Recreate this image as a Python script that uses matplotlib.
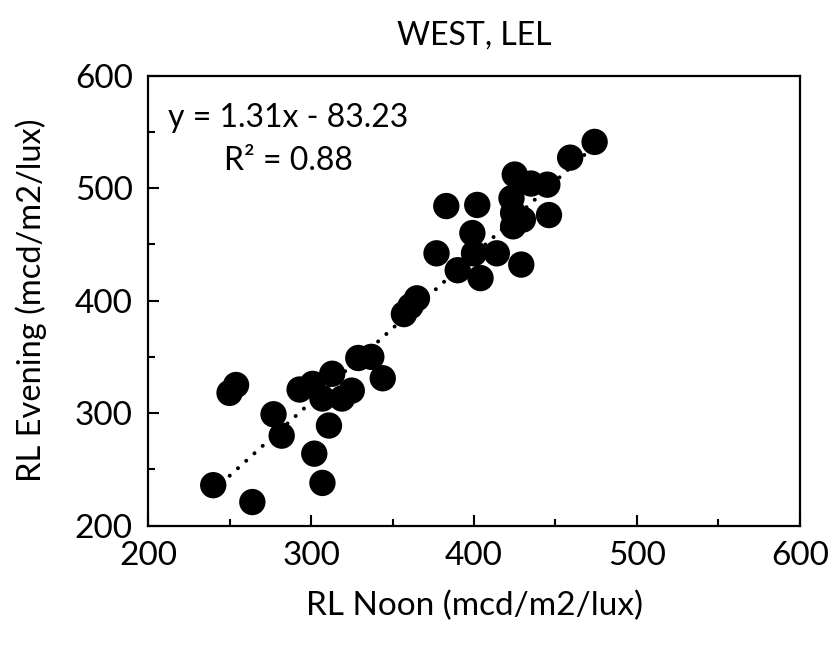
import numpy as np
import matplotlib
matplotlib.use("Agg")
import matplotlib.pyplot as plt
from matplotlib.ticker import MultipleLocator

plt.rcParams['font.family'] = ['Lato', 'DejaVu Sans']

# Retroreflectivity readings (mcd/m2/lux)
rl_noon = [240, 264, 250, 254, 277, 282, 302, 307, 311, 293, 301, 313, 307, 319,
           325, 329, 337, 344,
           357, 361, 365, 377, 390, 383, 402, 399, 400, 414, 404, 429,
           474, 459, 425, 435, 445, 423, 446, 424, 430, 424]
rl_evening = [236, 221, 318, 325, 299, 280, 264, 238, 289, 321, 326, 335, 313, 313,
              320, 349, 350, 331,
              388, 395, 402, 442, 427, 484, 485, 460, 442, 442, 420, 432,
              541, 527, 512, 504, 503, 491, 476, 478, 472, 466]

# Linear trendline
slope, intercept, r2 = 1.31, -83.23, 0.88

title = "WEST, LEL"
xlabel = "RL Noon (mcd/m2/lux)"
ylabel = "RL Evening (mcd/m2/lux)"
x_ticks = [200, 300, 400, 500, 600]
y_ticks = [200, 300, 400, 500, 600]

fig = plt.figure(figsize=(8.34, 6.47), dpi=100)
ax = fig.add_axes([0.1775, 0.1875, 0.7817, 0.6958])

ax.scatter(rl_noon, rl_evening, s=360, color='black', edgecolors='none', zorder=2)

xs = np.array([min(rl_noon), max(rl_noon)])
ax.plot(xs, slope * xs + intercept, color='black', lw=2.9,
        linestyle=(0, (0.01, 2.75)), dash_capstyle='round', zorder=3)

ax.set_xlim(x_ticks[0], x_ticks[-1])
ax.set_ylim(y_ticks[0], y_ticks[-1])
ax.set_xticks(x_ticks)
ax.set_yticks(y_ticks)
ax.xaxis.set_minor_locator(MultipleLocator(50))
ax.yaxis.set_minor_locator(MultipleLocator(50))
ax.tick_params(which='major', direction='in', length=8, width=1.5,
               labelsize=24)
ax.tick_params(which='minor', direction='in', length=5, width=1.5)
ax.tick_params(axis='x', which='major', pad=11)
ax.tick_params(axis='y', which='major', pad=11)
for sp in ax.spines.values():
    sp.set_linewidth(1.6)

ax.set_title(title, fontsize=23, pad=22)
ax.set_xlabel(xlabel, fontsize=24, labelpad=14)
ax.set_ylabel(ylabel, fontsize=23.5, labelpad=20)

eq = f"y = {slope:.2f}x - {abs(intercept):.2f}\nR² = {r2:.2f}"
ax.text(0.215, 0.857, eq, transform=ax.transAxes, ha='center', va='center',
        fontsize=23, linespacing=1.55)

fig.savefig("out.png", dpi=100)
